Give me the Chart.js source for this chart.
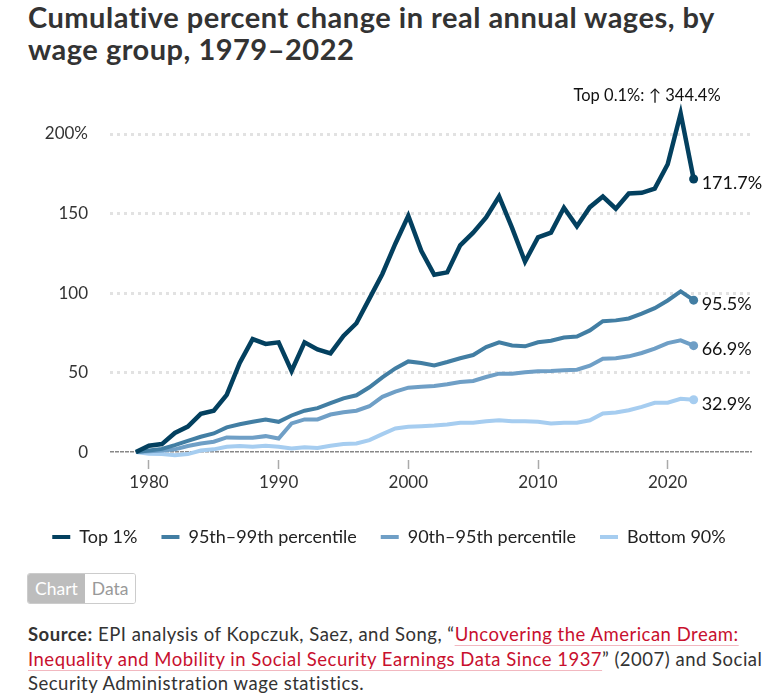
<!DOCTYPE html>
<html>
<head>
<meta charset="utf-8">
<script src="https://cdn.jsdelivr.net/npm/chart.js@4.4.0/dist/chart.umd.min.js"></script>
<style>
  html, body { margin: 0; padding: 0; background: #fff; }
  body { width: 768px; height: 698px; position: relative; overflow: hidden; font-family: Lato, "Open Sans", sans-serif; color: #333; }
  #title { position: absolute; left: 28px; top: 1px; width: 745px; font-weight: 700; font-size: 29px; letter-spacing: 0.5px; line-height: 32px; color: #333; z-index: 2; }
  #wrap { position: absolute; left: 0; top: 70px; width: 768px; height: 486px; }
  #toggle { position: absolute; left: 27px; top: 573px; height: 29px; display: flex; border: 1px solid #ccc; border-radius: 3px; overflow: hidden; font-size: 17.5px; }
  #toggle .on { background: #bdbdbd; color: #fff; padding: 0 7px; line-height: 29px; }
  #toggle .off { background: #fff; color: #999; padding: 0 7px; line-height: 29px; }
  #source { position: absolute; left: 28px; top: 622px; width: 735px; font-size: 18.5px; letter-spacing: 0.5px; line-height: 24.5px; color: #333; }
  #source a { color: #c8102e; text-decoration: underline; text-decoration-color: #f2b8c0; text-underline-offset: 4px; }
</style>
</head>
<body>
<div id="title">Cumulative percent change in real annual wages, by wage group, 1979–2022</div>
<div id="wrap"><canvas id="c" width="768" height="486"></canvas></div>
<div id="toggle"><span class="on">Chart</span><span class="off">Data</span></div>
<div id="source"><b>Source:</b> EPI analysis of Kopczuk, Saez, and Song, “<a>Uncovering the American Dream: Inequality and Mobility in Social Security Earnings Data Since 1937</a>” (2007) and Social Security Administration wage statistics.</div>
<script>
const years = [];
for (let y = 1979; y <= 2022; y++) years.push(y);

const seriesNames = ["Top 1%", "95th–99th percentile", "90th–95th percentile", "Bottom 90%"];

const top1 = [0, 4, 5, 12, 16, 24, 26, 36, 56, 71, 68, 69, 51, 69, 64.5, 62, 73, 81, 96.5, 112, 131, 148.6, 126.6, 111.5, 113, 130, 138, 147.5, 160.7, 141, 119.7, 135, 138, 153.6, 142, 154, 160.7, 153, 162.6, 163, 165.7, 181, 213, 171.7];
const p95to99 = [0, 1, 2, 4.4, 7, 9.6, 11.7, 15.5, 17.5, 19, 20.5, 19, 23, 26, 27.6, 30.7, 33.8, 35.7, 40.7, 47, 52.6, 57, 56, 54.5, 56.6, 59, 61, 66, 69, 67, 66.5, 69, 70, 72, 72.7, 76.5, 82.3, 82.8, 84, 87, 90.5, 95.3, 101, 95.5];
const p90to95 = [0, 0.5, 1, 1.7, 3.8, 5.4, 6.5, 9.2, 9, 9, 10, 8.5, 18, 20.5, 20.5, 23.6, 25, 26, 28.8, 34.7, 38, 40.5, 41, 41.5, 42.6, 44, 44.7, 47.2, 49.3, 49.3, 50.2, 50.8, 51, 51.4, 51.8, 54.3, 58.7, 59, 60.2, 62.3, 65, 68.5, 70.2, 66.9];
const bottom90 = [0, -1, -1.3, -2, -1.3, 1, 1.7, 3.3, 3.8, 3.3, 4, 3.3, 2.3, 3, 2.6, 4, 5, 5.4, 7.5, 11.3, 14.8, 15.9, 16.3, 16.7, 17.3, 18.4, 18.4, 19.4, 20, 19.4, 19.4, 19, 18, 18.4, 18.4, 20, 24.3, 24.9, 26.3, 28.4, 31, 31, 33.5, 32.9];

const yTicks = [0, 50, 100, 150, 200];
const xTicks = [1980, 1990, 2000, 2010, 2020];
const annotationText = "Top 0.1%: ↑ 344.4%";
const annotationYear = 2021;

const colors = ["#03405f", "#427ea3", "#6f9fc6", "#a6cdf0"];
const allSeries = [top1, p95to99, p90to95, bottom90];

const datasets = allSeries.map((vals, i) => ({
  label: seriesNames[i],
  data: vals.map((v, j) => ({ x: years[j], y: v })),
  borderColor: colors[i],
  backgroundColor: colors[i],
  pointBackgroundColor: colors[i],
  pointBorderWidth: 0,
  borderWidth: i === 0 ? 4.5 : 4,
  borderJoinStyle: 'miter',
  tension: 0,
  pointRadius: (ctx) => ctx.dataIndex === vals.length - 1 ? 4.5 : 0,
  clip: false
}));

const endLabelPlugin = {
  id: 'endLabels',
  afterDatasetsDraw(chart) {
    const ctx = chart.ctx;
    ctx.save();
    ctx.font = '18px Lato';
    ctx.fillStyle = '#111';
    ctx.textBaseline = 'middle';
    ctx.textAlign = 'left';
    chart.data.datasets.forEach((ds, i) => {
      const meta = chart.getDatasetMeta(i);
      const pt = meta.data[meta.data.length - 1];
      const v = allSeries[i][allSeries[i].length - 1];
      ctx.fillText(v.toFixed(1) + '%', pt.x + 8, pt.y + 4);
    });
    const meta0 = chart.getDatasetMeta(0);
    const peak = meta0.data[years.indexOf(annotationYear)];
    ctx.font = '16.5px Lato';
    ctx.textAlign = 'right';
    ctx.fillText(annotationText, peak.x + 40, chart.chartArea.top - 7);
    ctx.restore();
  }
};

new Chart(document.getElementById('c'), {
  type: 'line',
  data: { datasets },
  plugins: [endLabelPlugin],
  options: {
    responsive: false,
    animation: false,
    events: [],
    layout: { padding: { top: 0, left: 26, right: 16, bottom: 0 } },
    plugins: {
      tooltip: { enabled: false },
      legend: {
        position: 'bottom',
        labels: {
          boxWidth: 18,
          boxHeight: 4,
          padding: 24,
          color: '#222',
          font: { family: 'Lato', size: 18 },
          generateLabels: (chart) => chart.data.datasets.map((d, i) => ({
            text: d.label, fillStyle: d.borderColor, strokeStyle: d.borderColor,
            lineWidth: 0, hidden: false, datasetIndex: i, fontColor: '#222'
          }))
        }
      }
    },
    scales: {
      x: {
        type: 'linear',
        min: 1977,
        max: 2026.5,
        afterBuildTicks: (s) => { s.ticks = xTicks.map(v => ({ value: v })); },
        afterFit: (s) => { s.height = 44; },
        ticks: { color: '#333', font: { family: 'Lato', size: 17 }, padding: 3, callback: (v) => String(v), maxRotation: 0 },
        grid: { drawOnChartArea: false, drawTicks: true, tickLength: 9, tickColor: '#aaa', tickWidth: 1.5 },
        border: { display: false }
      },
      y: {
        min: -5,
        max: 220,
        afterBuildTicks: (s) => { s.ticks = yTicks.map(v => ({ value: v })); },
        afterFit: (s) => { s.width = 84; },
        ticks: { color: '#333', font: { family: 'Lato', size: 17 }, padding: 22, callback: (v) => v === 200 ? '200%' : String(v) },
        grid: {
          drawTicks: false,
          color: (c) => c.tick && c.tick.value === 0 ? '#888' : '#e2e2e2',
          lineWidth: (c) => c.tick && c.tick.value === 0 ? 1.5 : 3
        },
        border: { display: false, dash: (c) => c.tick && c.tick.value === 0 ? [4, 1] : [3, 4] }
      }
    }
  }
});
</script>
</body>
</html>
